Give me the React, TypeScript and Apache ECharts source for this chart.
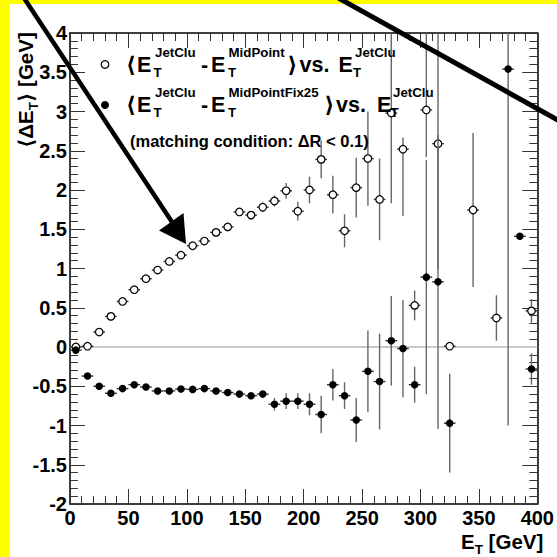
import React, { useEffect, useRef } from "react";
import * as echarts from "echarts";

// ---- data ----
const openX = [5, 15, 25, 35, 45, 55, 65, 75, 85, 95, 105, 115, 125, 135, 145, 155, 165, 175, 185, 195, 205, 215, 225, 235, 245, 255, 265, 275, 285, 295, 305, 315, 325, 345, 365, 395];
const openY = [0.0, 0.01, 0.19, 0.39, 0.58, 0.73, 0.87, 0.98, 1.09, 1.17, 1.29, 1.35, 1.46, 1.53, 1.72, 1.68, 1.78, 1.86, 1.99, 1.73, 2.0, 2.39, 1.94, 1.48, 2.03, 2.4, 1.88, 2.98, 2.52, 0.53, 3.02, 2.59, 0.01, 1.745, 0.37, 0.46];
const openErrLo = [0.02, 0.02, 0.02, 0.02, 0.02, 0.02, 0.02, 0.02, 0.02, 0.02, 0.02, 0.02, 0.02, 0.02, 0.03, 0.04, 0.06, 0.07, 0.1, 0.12, 0.17, 0.24, 0.24, 0.21, 0.38, 0.6, 0.52, 1.15, 0.85, 0.19, 0.6, 1.6, 0, 0.98, 0.29, 0.15];
const openErrHi = [0.02, 0.02, 0.02, 0.02, 0.02, 0.02, 0.02, 0.02, 0.02, 0.02, 0.02, 0.02, 0.02, 0.02, 0.03, 0.04, 0.06, 0.07, 0.1, 0.12, 0.17, 0.24, 0.24, 0.21, 0.38, 0.6, 0.52, 1.15, 0.15, 0.19, 1.2, 1.6, 0, 0.98, 0.29, 0.15];

const filledX = [5, 15, 25, 35, 45, 55, 65, 75, 85, 95, 105, 115, 125, 135, 145, 155, 165, 175, 185, 195, 205, 215, 225, 235, 245, 255, 265, 275, 285, 295, 305, 315, 325, 375, 385, 395];
const filledY = [-0.04, -0.37, -0.5, -0.59, -0.53, -0.48, -0.51, -0.56, -0.56, -0.535, -0.54, -0.53, -0.56, -0.58, -0.6, -0.62, -0.6, -0.73, -0.69, -0.69, -0.73, -0.86, -0.48, -0.62, -0.93, -0.31, -0.44, 0.08, -0.02, -0.48, 0.89, 0.83, -0.97, 3.54, 1.41, -0.28];
const filledErr = [0.03, 0.03, 0.03, 0.03, 0.03, 0.03, 0.03, 0.03, 0.03, 0.03, 0.03, 0.03, 0.03, 0.03, 0.03, 0.03, 0.03, 0.08, 0.1, 0.1, 0.14, 0.24, 0.2, 0.17, 0.28, 0.52, 0.61, 0.57, 0.62, 0.23, 1.49, 1.87, 0.63, 4.54, 0, 0.2];

const binHalfWidth = 5;
const xMin = 0, xMax = 400, xStep = 50;
const yMin = -2, yMax = 4, yStep = 0.5;

const FONT = '"Liberation Sans", "DejaVu Sans", Arial, sans-serif';

let measureCtx: CanvasRenderingContext2D | null = null;
function tw(t: string, size: number) {
  if (!measureCtx) measureCtx = document.createElement("canvas").getContext("2d");
  if (!measureCtx) return t.length * size * 0.55;
  measureCtx.font = `bold ${size}px ${FONT}`;
  return measureCtx.measureText(t).width;
}

function txt(x: number, y: number, text: string, size: number, extra: any = {}) {
  return {
    type: "text",
    x,
    y,
    z: 50,
    style: {
      text,
      font: `bold ${size}px ${FONT}`,
      fontSize: size,
      fontWeight: "bold",
      fontFamily: FONT,
      fill: "#000",
      align: "left",
      textAlign: "left",
      verticalAlign: "middle",
      textVerticalAlign: "middle",
    },
    ...extra,
  };
}

type Piece = { main?: string; sub?: string; sup?: string; at?: number; subAt?: number };

function buildLine(x0: number, yc: number, pieces: Piece[], mainSize: number, small: number, subDy: number, supDy: number) {
  const els: any[] = [];
  let x = x0;
  for (const p of pieces) {
    if (p.at !== undefined) x = p.at;
    if (p.main !== undefined) {
      els.push(txt(x, yc, p.main, mainSize));
      x += tw(p.main, mainSize);
    } else {
      const w1 = p.sub ? tw(p.sub, small) : 0;
      const w2 = p.sup ? tw(p.sup, small) : 0;
      const sx = p.subAt !== undefined ? p.subAt : x;
      if (p.sub) els.push(txt(sx, yc + subDy, p.sub, small));
      if (p.sup) els.push(txt(x, yc + supDy, p.sup, small));
      x += Math.max(w1, w2);
    }
  }
  return els;
}

function errRender(params: any, api: any) {
  const x = api.value(0);
  const y = api.value(1);
  const lo = api.value(2);
  const hi = api.value(3);
  const yl = Math.max(y - lo, yMin);
  const yh = Math.min(y + hi, yMax);
  const p = api.coord([x, y]);
  const pl = api.coord([x, yl]);
  const ph = api.coord([x, yh]);
  const pxl = api.coord([x - binHalfWidth, y]);
  const pxr = api.coord([x + binHalfWidth, y]);
  return {
    type: "group",
    children: [
      { type: "line", shape: { x1: p[0], y1: ph[1], x2: p[0], y2: pl[1] }, style: { stroke: "#666", lineWidth: 1.4 } },
      { type: "line", shape: { x1: pxl[0], y1: p[1], x2: pxr[0], y2: p[1] }, style: { stroke: "#333", lineWidth: 1.4 } },
    ],
  };
}

export default function App() {
  const ref = useRef<HTMLDivElement>(null);
  useEffect(() => {
    if (!ref.current) return;
    const chart = echarts.init(ref.current, null, { renderer: "svg" });

    const openData = openX.map((x, i) => [x, openY[i], openErrLo[i], openErrHi[i]]);
    const filledData = filledX.map((x, i) => [x, filledY[i], filledErr[i], filledErr[i]]);

    const labelStyle = { color: "#000", fontSize: 20, fontWeight: "bold", fontFamily: FONT };
    const tickStyle = { color: "#333", width: 1 };
    const lineStyle = { color: "#000", width: 1.5 };

    const xBase = {
      type: "value",
      min: xMin,
      max: xMax,
      interval: xStep,
      axisLine: { show: true, onZero: false, lineStyle },
      axisTick: { show: true, inside: true, length: 15, lineStyle: tickStyle },
      minorTick: { show: true, splitNumber: 5, length: 8, lineStyle: tickStyle },
      splitLine: { show: false },
      minorSplitLine: { show: false },
    };
    const yBase = {
      type: "value",
      min: yMin,
      max: yMax,
      interval: yStep,
      axisLine: { show: true, onZero: false, lineStyle },
      axisTick: { show: true, inside: true, length: 15, lineStyle: tickStyle },
      minorTick: { show: true, splitNumber: 5, length: 8, lineStyle: tickStyle },
      splitLine: { show: false },
      minorSplitLine: { show: false },
    };

    const M = 21.5, S = 13.3;
    const legend1 = buildLine(127, 65, [
      { main: "⟨", at: 126 }, { main: "E", at: 137 }, { sub: "T", sup: "JetClu", at: 155, subAt: 153.5 },
      { main: "-", at: 201 }, { main: "E", at: 211 }, { sub: "T", sup: "MidPoint", at: 228.5, subAt: 228 },
      { main: "⟩", at: 287.5 }, { main: "vs.", at: 299.5 }, { main: "E", at: 338.5 }, { sub: "T", sup: "JetClu", at: 355, subAt: 353 },
    ], M, S, 7.5, -12.5);
    const legend2 = buildLine(127, 105, [
      { main: "⟨", at: 126 }, { main: "E", at: 137 }, { sub: "T", sup: "JetClu", at: 155, subAt: 153.5 },
      { main: "-", at: 201 }, { main: "E", at: 211 }, { sub: "T", sup: "MidPointFix25", at: 228.5, subAt: 228 },
      { main: "⟩", at: 324.5 }, { main: "vs.", at: 336 }, { main: "E", at: 377 }, { sub: "T", sup: "JetClu", at: 393, subAt: 390.5 },
    ], M, S, 7.5, -12.5);
    const xTitle = buildLine(461, 541, [{ main: "E" }, { sub: "T" }, { main: " [GeV]" }], 20.5, 13.5, 8, 0);
    const yTitleChildren = buildLine(0, 0, [{ main: "⟨ΔE" }, { sub: "T" }, { main: "⟩ [GeV]" }], 20.5, 13.5, 7.5, 0);

    chart.setOption({
      animation: false,
      backgroundColor: "#ffffff",
      grid: { left: 70, top: 33, right: 14, bottom: 53, containLabel: false },
      xAxis: [
        { ...xBase, position: "bottom", axisLabel: { ...labelStyle, margin: 4, showMinLabel: true, showMaxLabel: true } },
        { ...xBase, position: "top", axisLabel: { show: false } },
      ],
      yAxis: [
        { ...yBase, position: "left", axisLabel: { ...labelStyle, margin: 3, showMinLabel: true, showMaxLabel: true } },
        { ...yBase, position: "right", axisLabel: { show: false } },
      ],
      series: [
        {
          type: "line",
          data: [[xMin, 0], [xMax, 0]],
          symbol: "none",
          lineStyle: { color: "#c8c8c8", width: 2 },
          silent: true,
          z: 1,
        },
        {
          type: "custom",
          renderItem: errRender,
          data: openData,
          encode: { x: 0, y: 1 },
          z: 2,
        },
        {
          type: "scatter",
          data: openData.map((d) => [d[0], d[1]]),
          symbol: "circle",
          symbolSize: 7.5,
          itemStyle: { color: "#fff", borderColor: "#000", borderWidth: 1.2, opacity: 1 },
          z: 3,
        },
        {
          type: "custom",
          renderItem: errRender,
          data: filledData,
          encode: { x: 0, y: 1 },
          z: 4,
        },
        {
          type: "scatter",
          data: filledData.map((d) => [d[0], d[1]]),
          symbol: "circle",
          symbolSize: 7.5,
          itemStyle: { color: "#000", opacity: 1 },
          z: 5,
        },
      ],
      graphic: [
        // yellow frame strips
        { type: "rect", shape: { x: 0, y: 0, width: 10, height: 557 }, style: { fill: "#ffff00" }, z: 90 },
        { type: "rect", shape: { x: 0, y: 0, width: 557, height: 4 }, style: { fill: "#ffff00" }, z: 90 },
        // legend markers
        { type: "circle", shape: { cx: 105, cy: 64.5, r: 3.8 }, style: { fill: "#fff", stroke: "#000", lineWidth: 1.2 }, z: 50 },
        { type: "circle", shape: { cx: 105, cy: 105, r: 4 }, style: { fill: "#000" }, z: 50 },
        ...legend1,
        ...legend2,
        txt(130, 141, "(matching condition: ΔR < 0.1)", 16.5),
        ...xTitle,
        { type: "group", x: 25.5, y: 148, rotation: Math.PI / 2, z: 50, children: yTitleChildren },
        // arrows
        { type: "line", shape: { x1: 22, y1: -5, x2: 172, y2: 222 }, style: { stroke: "#000", lineWidth: 4.5 }, z: 100 },
        { type: "polygon", shape: { points: [[159, 230.5], [183.5, 213], [186, 244]] }, style: { fill: "#000" }, z: 100 },
        { type: "line", shape: { x1: 333, y1: -5, x2: 565, y2: 124 }, style: { stroke: "#000", lineWidth: 5 }, z: 100 },
      ],
    });
    return () => chart.dispose();
  }, []);
  return <div ref={ref} style={{ position: "absolute", left: 0, top: 0, width: 557, height: 557 }} />;
}
